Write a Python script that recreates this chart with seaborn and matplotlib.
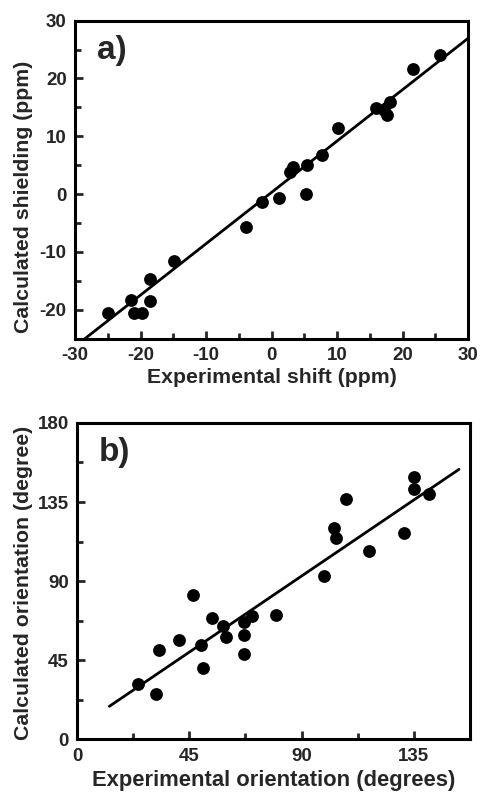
import numpy as np
import pandas as pd
import matplotlib
matplotlib.use("Agg")
import matplotlib.pyplot as plt
from matplotlib.ticker import MultipleLocator
import seaborn as sns

# panel a) shift vs shielding (ppm)
shift_exp = [25.7, 21.6, 16.0, 17.2, 18.1, 17.6, 10.2, 7.7, 5.4, 3.3, 2.8, 5.3,
             1.2, -1.5, -3.9, -14.9, -18.5, -21.4, -18.6, -21.0, -19.7, -25.0]
shield_calc = [24.1, 21.7, 14.9, 14.6, 15.9, 13.7, 11.4, 6.8, 5.1, 4.7, 3.8, 0.1,
               -0.7, -1.3, -5.6, -11.5, -14.7, -18.3, -18.4, -20.5, -20.5, -20.5]
fit_a = (0.888, 0.3)          # slope, intercept
fit_a_x = [-30, 30]

# panel b) orientation (degrees)
orient_exp = [135.0, 135.0, 141.0, 108.0, 103.0, 103.9, 131.0, 117.0, 99.0, 46.7,
              79.8, 70.0, 66.8, 54.0, 58.7, 59.9, 66.8, 40.7, 49.8, 32.7, 66.8,
              50.7, 24.6, 31.7]
orient_calc = [149.4, 142.4, 139.5, 136.5, 120.3, 114.3, 117.3, 107.2, 93.2, 82.0,
               71.0, 70.0, 66.8, 69.3, 64.2, 58.3, 59.1, 56.4, 53.5, 51.1, 48.4,
               40.8, 31.7, 25.6]
fit_b = (0.962, 6.3)
fit_b_x = [13.0, 153.1]

sns.set_style("ticks")
plt.rcParams['font.family'] = ['Liberation Sans', 'DejaVu Sans']
plt.rcParams['font.weight'] = 'bold'
plt.rcParams['axes.labelweight'] = 'bold'
plt.rcParams['axes.unicode_minus'] = False

fig = plt.figure(figsize=(4.81, 7.95), dpi=100)
ax1 = fig.add_axes([0.156, 0.574, 0.817, 0.400])
ax2 = fig.add_axes([0.160, 0.070, 0.817, 0.398])


def style_axes(ax, xlim, ylim, xmaj, ymaj):
    ax.set_xlim(*xlim)
    ax.set_ylim(*ylim)
    ax.xaxis.set_major_locator(MultipleLocator(xmaj))
    ax.xaxis.set_minor_locator(MultipleLocator(xmaj / 2))
    ax.yaxis.set_major_locator(MultipleLocator(ymaj))
    ax.yaxis.set_minor_locator(MultipleLocator(ymaj / 2))
    ax.tick_params(which='major', direction='in', length=6, width=2,
                   labelsize=13.5, pad=6, top=False, right=False)
    ax.tick_params(which='minor', direction='in', length=4, width=2,
                   top=False, right=False)
    for sp in ax.spines.values():
        sp.set_visible(True)
        sp.set_linewidth(2.2)
        sp.set_color('black')
    for lab in ax.get_xticklabels() + ax.get_yticklabels():
        lab.set_fontweight('bold')


# panel a
df_a = pd.DataFrame({'x': shift_exp, 'y': shield_calc})
sns.scatterplot(data=df_a, x='x', y='y', ax=ax1, s=85, color='black',
                edgecolor='black', linewidth=0, zorder=3)
xa = np.array(fit_a_x)
sns.lineplot(x=xa, y=fit_a[0] * xa + fit_a[1], ax=ax1, color='black', lw=2)
style_axes(ax1, (-30, 30), (-25, 30), 10, 10)
ax1.set_xlabel('Experimental shift (ppm)', fontsize=15.3, labelpad=3)
ax1.set_ylabel('Calculated shielding (ppm)', fontsize=15.3)
ax1.yaxis.set_label_coords(-0.107, 0.445)
ax1.text(0.055, 0.955, 'a)', transform=ax1.transAxes, fontsize=24,
         fontweight='bold', va='top', ha='left')

# panel b
df_b = pd.DataFrame({'x': orient_exp, 'y': orient_calc})
sns.scatterplot(data=df_b, x='x', y='y', ax=ax2, s=85, color='black',
                edgecolor='black', linewidth=0, zorder=3)
xb = np.array(fit_b_x)
sns.lineplot(x=xb, y=fit_b[0] * xb + fit_b[1], ax=ax2, color='black', lw=2)
style_axes(ax2, (0, 157.5), (0, 180), 45, 45)
ax2.set_xlabel('Experimental orientation (degrees)', fontsize=15.8, labelpad=4)
ax2.set_ylabel('Calculated orientation (degree)', fontsize=15.3)
ax2.yaxis.set_label_coords(-0.112, 0.495)
ax2.text(0.055, 0.955, 'b)', transform=ax2.transAxes, fontsize=24,
         fontweight='bold', va='top', ha='left')

fig.savefig('out.png', dpi=100)
plt.close(fig)
